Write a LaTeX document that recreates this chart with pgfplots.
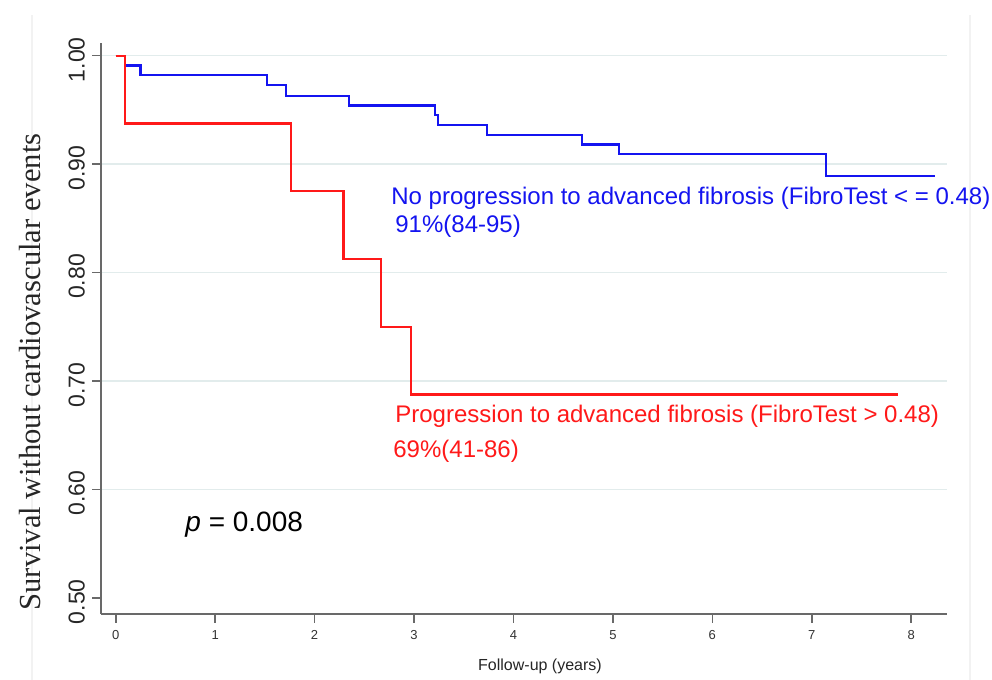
\documentclass[border=0pt]{standalone}
\usepackage{pgfplots}
\pgfplotsset{compat=1.18}
\usepackage{fontspec}
\setmainfont{Liberation Sans}
\newfontfamily\timesfont{Liberation Serif}
\definecolor{kmblue}{RGB}{20,20,240}
\definecolor{kmred}{RGB}{255,25,25}
\definecolor{axgray}{RGB}{105,105,105}
\definecolor{gridc}{RGB}{226,236,236}
\begin{document}
\begin{tikzpicture}[x=0.5pt,y=0.5pt]
\useasboundingbox (0,0) rectangle (992,680);
\fill[white] (0,0) rectangle (992,680);
\draw[black!5, line width=0.6pt] (32,0) -- (32,665);
\draw[black!5, line width=0.6pt] (970,0) -- (970,665);
\begin{axis}[
  at={(50.5pt,33pt)}, anchor=south west,
  scale only axis, width=423pt, height=285.65pt,
  xmin=-0.148, xmax=8.36, ymin=0.485, ymax=1.012,
  axis lines*=left,
  axis line style={axgray, line width=0.8pt},
  xtick={0,1,2,3,4,5,6,7,8},
  ytick={0.6,0.7,0.8,0.9,1.0},
  extra y ticks={0.5},
  extra y tick style={grid=none},
  ymajorgrids,
  major grid style={gridc, line width=0.8pt},
  tick style={axgray, line width=0.8pt},
  tick align=outside,
  major tick length=4.5pt,
  /pgf/number format/assume math mode=true,
  yticklabel style={/pgf/number format/fixed, /pgf/number format/fixed zerofill, /pgf/number format/precision=2,
     rotate=90, anchor=south, xshift=-2pt, font=\fontsize{11.5}{12}\selectfont, color=black!85},
  xticklabel style={font=\fontsize{6.5}{7}\selectfont, color=black!80},
  clip=false,
]
\addplot[const plot, kmblue, line width=1.1pt] coordinates {
 (0,1.0) (0.09,0.991) (0.25,0.982) (1.52,0.973) (1.71,0.963) (2.35,0.954)
 (3.21,0.945) (3.24,0.936) (3.73,0.927) (4.69,0.918) (5.06,0.909) (7.14,0.889) (8.24,0.889)};
\addplot[const plot, kmred, line width=1.1pt] coordinates {
 (0,1.0) (0.09,0.9375) (1.765,0.875) (2.29,0.8125) (2.67,0.75) (2.97,0.6875) (7.87,0.6875)};
\end{axis}
\node[anchor=base west, kmblue, font=\fontsize{12}{14}\selectfont, inner sep=0] at (391,680-205) {No progression to advanced fibrosis (FibroTest < = 0.48)};
\node[anchor=base west, kmblue, font=\fontsize{12}{14}\selectfont, inner sep=0] at (395,680-233) {91\%(84-95)};
\node[anchor=base west, kmred, font=\fontsize{12}{14}\selectfont, inner sep=0] at (395,680-423) {Progression to advanced fibrosis (FibroTest > 0.48)};
\node[anchor=base west, kmred, font=\fontsize{12}{14}\selectfont, inner sep=0] at (393,680-458) {69\%(41-86)};
\node[anchor=base west, font=\fontsize{14}{16}\selectfont, inner sep=0] at (185,680-532) {\textit{p} = 0.008};
\node[anchor=base, font=\fontsize{8}{9}\selectfont, color=black!85, inner sep=0] at (540,680-671) {Follow-up (years)};
\node[rotate=90, font=\timesfont\fontsize{15.3}{17}\selectfont, color=black!85] at (30,680-372) {Survival without cardiovascular events};
\end{tikzpicture}
\end{document}
